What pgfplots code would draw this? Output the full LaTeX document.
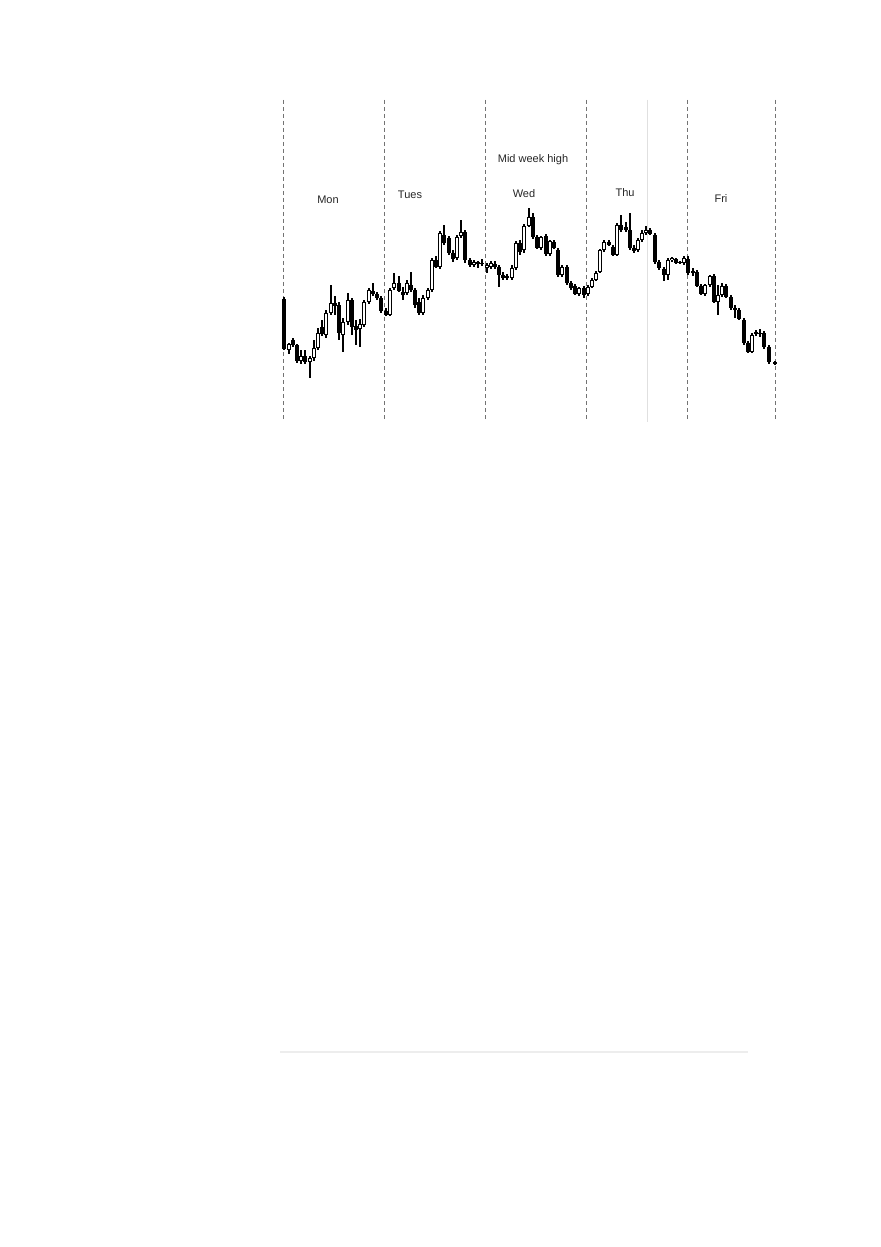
\documentclass[border=0pt]{standalone}
\usepackage{fontspec}
\setmainfont{Liberation Sans}
\usepackage{pgfplots}
\usepackage{pgfplotstable}
\pgfplotsset{compat=1.18}
% candle data in picture units (y grows downward): x open high low close
\pgfplotstableread{
x o h l c
284 299 297 350 349
289 350 343 354 344
293 340 338 347 345
297 345 344 363 361
301 361 350 364 356
305 356 350 364 362
310 362 356 378 358
314 358 340 361 348
318 348 328 350 333
322 327 320 336 334
326 335 310 338 313
331 313 285 315 303
335 303 296 315 306
339 305 302 340 333
343 335 318 352 322
348 322 293 325 300
352 300 298 335 327
356 326 320 345 330
360 329 319 347 324
364 325 300 327 302
369 302 288 304 290
373 291 283 296 294
377 294 292 300 298
381 298 296 313 311
386 311 308 316 315
390 315 288 316 290
394 288 273 290 283
399 283 276 292 291
403 292 287 300 295
407 293 280 295 283
411 285 272 292 290
415 290 288 308 305
419 302 298 315 313
423 313 295 315 298
428 298 288 300 290
432 290 258 292 260
436 260 256 268 267
440 267 231 269 233
444 235 225 245 243
449 238 236 255 253
453 253 250 262 259
457 258 235 260 237
461 236 220 238 232
465 232 230 263 260
470 260 258 267 265
474 265 260 267 262
478 263 261 268 263
482 264 259 266 263
487 268 263 273 265
491 267 261 269 263
495 264 261 269 267
499 267 265 287 275
503 275 272 280 278
507 276 274 280 278
512 278 265 280 268
516 268 241 270 243
520 243 240 255 252
524 250 224 253 226
529 226 208 227 217
533 217 213 239 237
537 237 235 249 248
541 248 236 250 237
546 236 234 256 254
550 254 240 256 241
554 242 240 249 248
558 250 248 277 275
562 275 265 277 267
567 267 265 285 283
571 283 281 290 288
575 286 284 295 294
579 294 287 296 288
584 288 286 298 295
588 294 285 296 287
592 287 278 288 280
596 280 271 281 273
600 272 249 273 250
604 250 240 252 242
609 242 240 246 245
613 247 245 256 255
617 255 223 256 225
621 225 215 232 230
626 227 222 232 230
630 230 213 250 248
634 248 245 253 251
638 250 238 252 240
642 240 230 242 233
646 233 226 235 230
650 230 228 235 234
655 235 233 264 262
659 262 260 270 268
664 269 267 281 275
668 275 258 280 260
672 260 257 262 258
676 259 258 264 263
680 262 261 264 263
684 263 256 265 258
688 259 256 275 273
693 272 268 276 272
697 272 270 287 286
701 286 284 295 294
705 294 284 296 285
710 285 275 287 276
714 276 274 303 302
718 302 285 315 295
722 295 283 297 286
726 286 284 298 297
731 297 295 310 308
735 308 305 318 310
739 310 308 320 319
744 320 318 345 343
748 343 341 353 352
752 352 333 353 335
756 333 330 336 333
760 334 329 337 333
764 333 331 349 347
769 347 345 364 362
775 363 361 365 363
}\candles
\begin{document}
\begin{tikzpicture}
\fill[white] (0,0) rectangle (440pt,623.5pt);
\begin{axis}[at={(0,0)}, anchor=south west, scale only axis,
  width=440pt, height=623.5pt, xmin=0, xmax=880, ymin=0, ymax=1247,
  y dir=reverse, hide axis, clip=false]
% day separators
\addplot[black!55, line width=0.5pt, dash pattern=on 2pt off 1.5pt] coordinates {(283,100) (283,422)};
\addplot[black!55, line width=0.5pt, dash pattern=on 2pt off 1.5pt] coordinates {(384,100) (384,422)};
\addplot[black!55, line width=0.5pt, dash pattern=on 2pt off 1.5pt] coordinates {(485,100) (485,422)};
\addplot[black!55, line width=0.5pt, dash pattern=on 2pt off 1.5pt] coordinates {(586,100) (586,422)};
\addplot[black!55, line width=0.5pt, dash pattern=on 2pt off 1.5pt] coordinates {(687,100) (687,422)};
\addplot[black!55, line width=0.5pt, dash pattern=on 2pt off 1.5pt] coordinates {(775,100) (775,422)};
\addplot[black!12, line width=0.5pt] coordinates {(647,100) (647,422)};
% bottom rule
\addplot[black!7, line width=1pt] coordinates {(280,1052) (748,1052)};
% wicks
\addplot[draw=none, mark=none, error bars/.cd, y dir=both, y explicit, error mark=none,
  error bar style={draw=black, solid, line width=0.55pt}]
  table[x=x, y expr={(\thisrow{h}+\thisrow{l})/2}, y error expr={(\thisrow{l}-\thisrow{h})/2}] {\candles};
% bodies
\addplot[draw=none, mark=none, error bars/.cd, y dir=both, y explicit, error mark=none,
  error bar style={draw=black, solid, line width=1.75pt}]
  table[x=x, y expr={(\thisrow{o}+\thisrow{c})/2}, y error expr={max(abs(\thisrow{o}-\thisrow{c})/2,0.7)}] {\candles};
\addplot[draw=none, mark=none, error bars/.cd, y dir=both, y explicit, error mark=none,
  error bar style={draw=white, solid, line width=0.8pt}]
  table[x=x, y expr={(\thisrow{o}+\thisrow{c})/2}, y error expr={max((\thisrow{o}-\thisrow{c})/2-0.95,0)}] {\candles};
% labels
\node[text=black!85, font=\fontsize{5.5}{6.5}\selectfont] at (axis cs:328,200) {Mon};
\node[text=black!85, font=\fontsize{5.5}{6.5}\selectfont] at (axis cs:410,195) {Tues};
\node[text=black!85, font=\fontsize{5.5}{6.5}\selectfont] at (axis cs:533,160) {Mid week high};
\node[text=black!85, font=\fontsize{5.5}{6.5}\selectfont] at (axis cs:524,194) {Wed};
\node[text=black!85, font=\fontsize{5.5}{6.5}\selectfont] at (axis cs:625,193) {Thu};
\node[text=black!85, font=\fontsize{5.5}{6.5}\selectfont] at (axis cs:721,199) {Fri};
\end{axis}
\end{tikzpicture}
\end{document}
